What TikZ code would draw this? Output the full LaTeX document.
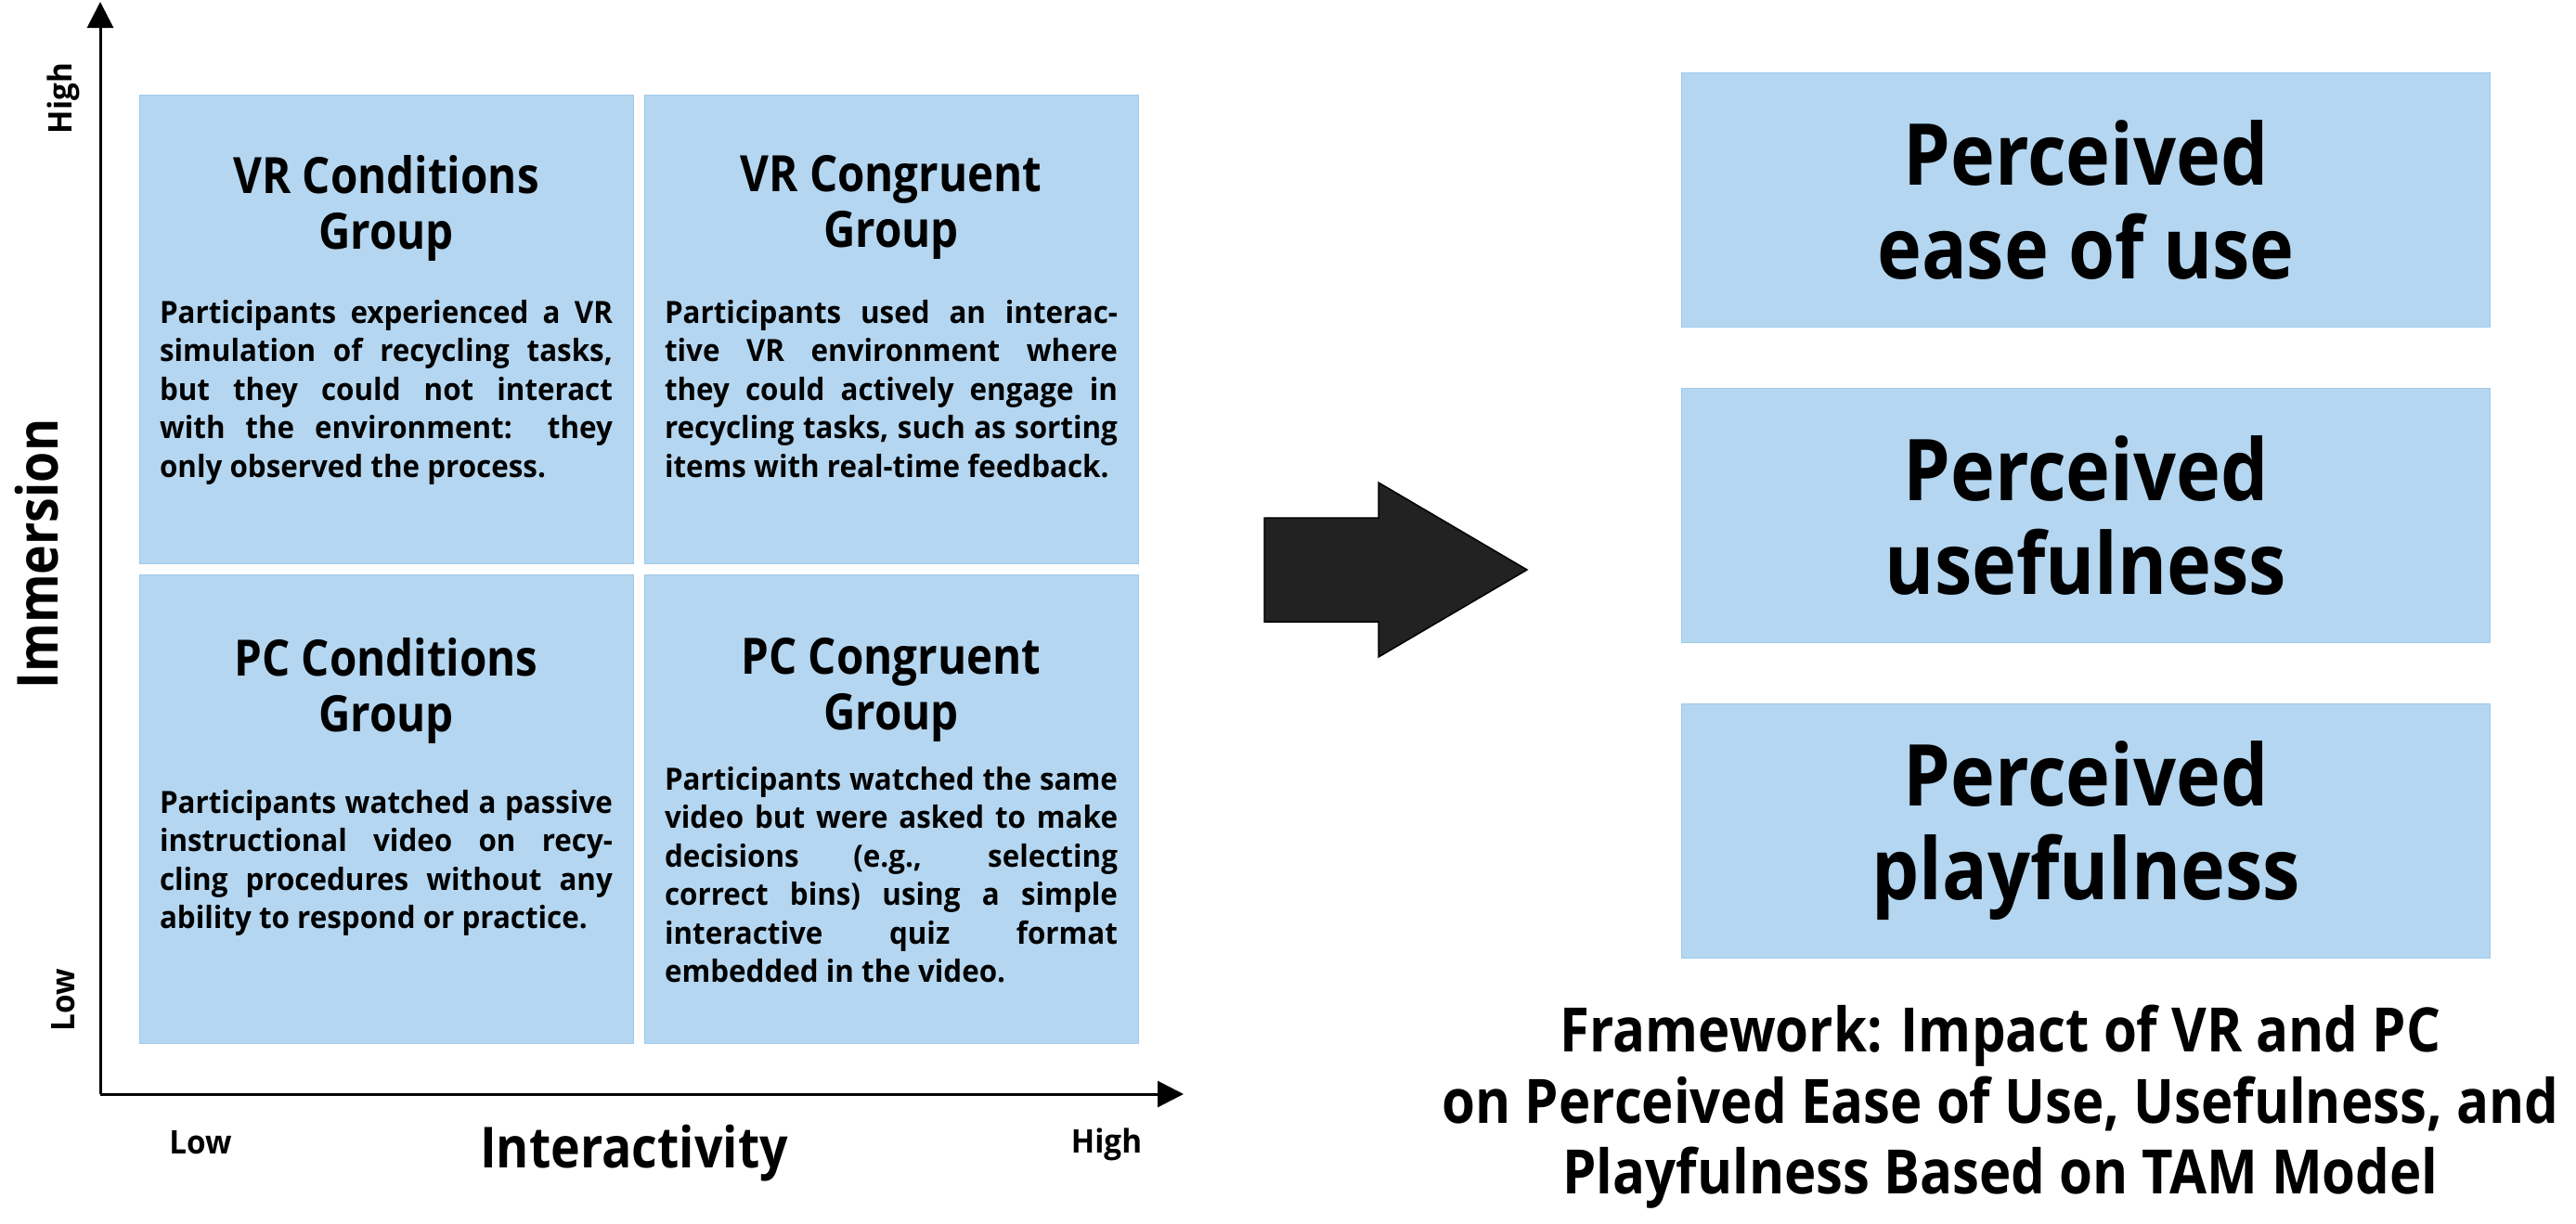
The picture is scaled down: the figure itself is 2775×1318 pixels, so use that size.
\documentclass[tikz,border=0pt]{standalone}
\usepackage{fontspec}
\setmainfont{Open Sans}
\newfontfamily\bodyfont{Open Sans}[FakeStretch=0.95]
\newfontfamily\narrowfont{Open Sans}[FakeStretch=0.88]
\usetikzlibrary{arrows.meta}
\tolerance=10000
\hyphenpenalty=10000
\def \vrConditionsStr {VR Conditions\\Group}
\def \vrCongruentStr {VR Congruent\\Group}
\def \pcConditionsStr {PC Conditions\\Group}
\def \pcCongruentStr {PC Congruent\\Group}
\def \vrConditionsTextStr {Participants experienced a VR\linebreak simulation of recycling tasks,\linebreak but they could not interact\linebreak with the environment: they\linebreak only observed the process.}
\def \vrCongruentTextStr {Participants used an interac-\linebreak tive VR environment where\linebreak they could actively engage in\linebreak recycling tasks, such as sorting\linebreak items with real-time feedback.}
\def \pcConditionsTextStr {Participants watched a passive\linebreak instructional video on recy-\linebreak cling procedures without any\linebreak ability to respond or practice.}
\def \pcCongruentTextStr {Participants watched the same\linebreak video but were asked to make\linebreak decisions (e.g., selecting\linebreak correct bins) using a simple\linebreak interactive quiz format\linebreak embedded in the video.}
\def \easeOfUseStr {Perceived\\ease of use}
\def \usefulnessStr {Perceived\\usefulness}
\def \playfulnessStr {Perceived\\playfulness}
\def \frameworkStr {Framework: Impact of VR and PC\\on Perceived Ease of Use, Usefulness, and\\Playfulness Based on TAM Model}
\def \immersionStr {Immersion}
\def \interactivityStr {Interactivity}
\def \highStr {High}
\def \lowStr {Low}

\begin{document}
\begin{tikzpicture}[x=1pt, y=-1pt,
  mybox/.style={draw=boxedge, fill=boxblue, line width=1pt, inner sep=0pt,
    minimum width=532pt, minimum height=505pt},
  mytitle/.style={anchor=north, align=center, inner sep=0pt,
    font=\narrowfont\bfseries\fontsize{54}{60}\selectfont},
  mybody/.style={anchor=north, text width=488pt, align=justify, inner sep=0pt,
    font=\bodyfont\bfseries\fontsize{33}{41.5}\selectfont},
  tambox/.style={draw=boxedge, fill=boxblue, line width=1pt, align=center,
    minimum width=871pt, minimum height=274pt,
    font=\narrowfont\bfseries\fontsize{92}{101}\selectfont},
  axistext/.style={font=\narrowfont\bfseries\fontsize{61}{70}\selectfont},
  ticktext/.style={font=\bodyfont\bfseries\fontsize{35}{40}\selectfont}]

\definecolor{boxblue}{RGB}{180,214,240}
\definecolor{boxedge}{RGB}{160,201,234}
\definecolor{arrowgray}{RGB}{34,34,34}

\useasboundingbox (0,0) rectangle (2775,1318);

\coordinate (origin) at (108,1179);
\coordinate (ytop) at (108,2);
\coordinate (xend) at (1275,1179);

\draw[line width=3pt, -{Triangle[length=28pt, width=28pt]}] (origin) -- (ytop);
\draw[line width=3pt, -{Triangle[length=28pt, width=28pt]}] (origin) -- (xend);

\node[mybox] (vrcond) at (416,355) {};
\node[mybox] (vrcong) at (960,355) {};
\node[mybox] (pccond) at (416,872) {};
\node[mybox] (pccong) at (960,872) {};

\node[mytitle] (vrcondtitle) at (416,167) {\vrConditionsStr};
\node[mytitle] (vrcongtitle) at (960,167) {\vrCongruentStr};
\node[mytitle] (pccondtitle) at (416,687) {\pcConditionsStr};
\node[mytitle] (pccongtitle) at (960,687) {\pcCongruentStr};

\node[mybody] (vrcondtext) at (416,323) {\vrConditionsTextStr};
\node[mybody] (vrcongtext) at (960,323) {\vrCongruentTextStr};
\node[mybody] (pccondtext) at (416,851) {\pcConditionsTextStr};
\node[mybody] (pccongtext) at (960,826) {\pcCongruentTextStr};

\node[axistext, rotate=90] (immersion) at (40,597) {\immersionStr};
\node[axistext, anchor=base] (interactivity) at (683,1258) {\interactivityStr};

\node[ticktext, rotate=90] (yhigh) at (68,106) {\highStr};
\node[ticktext, rotate=90] (ylow) at (68,1078) {\lowStr};
\node[ticktext, anchor=base] (xlow) at (216,1243) {\lowStr};
\node[ticktext, anchor=base] (xhigh) at (1192,1242) {\highStr};

\draw[fill=arrowgray, draw=black, line width=1.5pt] (1362,558) -- (1485,558) -- (1485,520)
  -- (1645,614) -- (1485,708) -- (1485,670) -- (1362,670) -- cycle;

\node[tambox] (easeofuse) at (2247,215) {\easeOfUseStr};
\node[tambox] (usefulness) at (2247,555) {\usefulnessStr};
\node[tambox] (playfulness) at (2247,895) {\playfulnessStr};

\node[anchor=north, align=center, inner sep=0pt,
  font=\narrowfont\bfseries\fontsize{66}{76.5}\selectfont] (framework) at (2155,1083) {\frameworkStr};

\end{tikzpicture}
\end{document}
